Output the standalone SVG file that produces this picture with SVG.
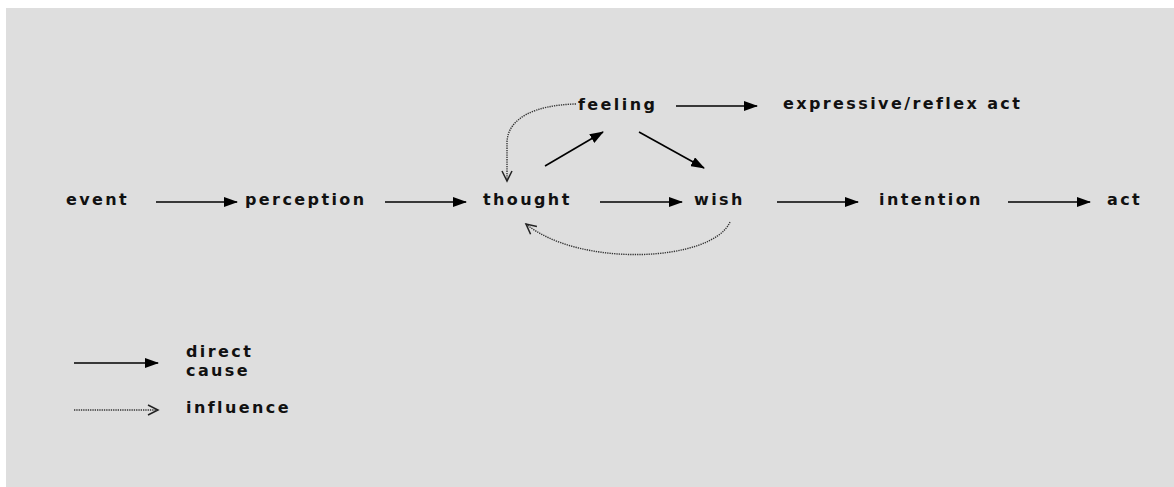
<svg xmlns="http://www.w3.org/2000/svg" width="1174" height="487" viewBox="0 0 1174 487">
<defs>
<marker id="solid" markerWidth="14" markerHeight="10" refX="13" refY="5" orient="auto" markerUnits="userSpaceOnUse">
<path d="M0,0 L14,5 L0,10 z" fill="#000"/>
</marker>
<marker id="open" markerWidth="14" markerHeight="12" refX="11" refY="6" orient="auto" markerUnits="userSpaceOnUse">
<path d="M1,1 L11,6 L1,11" fill="none" stroke="#222" stroke-width="1.5"/>
</marker>
</defs>
<style>
text{font-family:"DejaVu Sans",Verdana,sans-serif;font-weight:bold;font-size:16px;letter-spacing:2.4px;fill:#111}
.c{stroke:#000;stroke-width:1.6;fill:none;marker-end:url(#solid)}
.d{stroke:#333;stroke-width:1.4;fill:none;stroke-dasharray:1.3 1;marker-end:url(#open)}
</style>
<rect x="0" y="0" width="1174" height="487" fill="#fff"/>
<rect x="6" y="8" width="1168" height="479" fill="#dedede"/>
<g id="connectors">
<line class="c" x1="156" y1="202" x2="237" y2="202"/>
<line class="c" x1="385" y1="202" x2="466" y2="202"/>
<line class="c" x1="600" y1="202" x2="682" y2="202"/>
<line class="c" x1="777" y1="202" x2="858" y2="202"/>
<line class="c" x1="1008" y1="202" x2="1090" y2="202"/>
<line class="c" x1="676" y1="106" x2="757" y2="106"/>
<line class="c" x1="545" y1="166" x2="603" y2="132"/>
<line class="c" x1="639" y1="132" x2="704" y2="168"/>
<path class="d" d="M576,104 C535,105 508,118 507,142 L507,181"/>
<path class="d" d="M730,222 C712,262 580,268 526,224"/>
<line class="c" x1="74" y1="363" x2="158" y2="363"/>
<line class="d" x1="74" y1="410" x2="158" y2="410"/>
</g>
<g id="event"><text x="66" y="205">event</text></g>
<g id="perception"><text x="245" y="205">perception</text></g>
<g id="thought"><text x="483" y="205">thought</text></g>
<g id="wish"><text x="694" y="205">wish</text></g>
<g id="intention"><text x="879" y="205">intention</text></g>
<g id="act"><text x="1107" y="205">act</text></g>
<g id="feeling"><text x="578" y="110">feeling</text></g>
<g id="expressive"><text x="783" y="109">expressive/reflex act</text></g>
<g id="legend">
<text x="186" y="357">direct</text>
<text x="186" y="376">cause</text>
<text x="186" y="413">influence</text>
</g>
</svg>
